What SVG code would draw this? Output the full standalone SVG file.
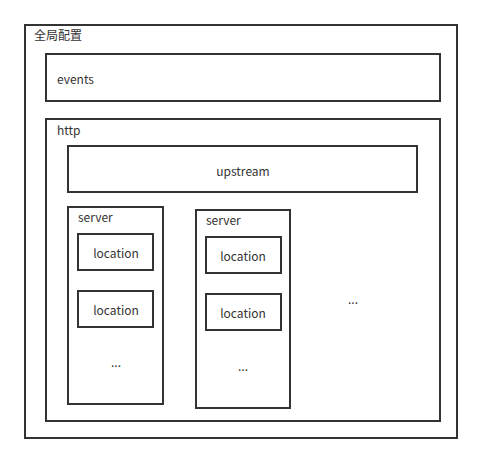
<svg xmlns="http://www.w3.org/2000/svg" width="482" height="464" viewBox="0 0 482 464">
  <style>
    .box { fill: #ffffff; stroke: #333333; stroke-width: 2; }
    .label { font-family: "Noto Sans CJK SC", "Liberation Sans", sans-serif; font-size: 12px; fill: #333333; }
    .mid { text-anchor: middle; }
  </style>
  <rect width="482" height="464" fill="#ffffff"/>

  <!-- global context -->
  <g id="global">
    <rect class="box" x="25" y="25" width="432" height="413"/>
    <text class="label" x="34" y="40">全局配置</text>
  </g>

  <g id="events">
    <rect class="box" x="46" y="54" width="394" height="47"/>
    <text class="label" x="57" y="84">events</text>
  </g>

  <g id="http">
    <rect class="box" x="46" y="119" width="394" height="302"/>
    <text class="label" x="57" y="135">http</text>
  </g>

  <g id="upstream">
    <rect class="box" x="68" y="146" width="349" height="46"/>
    <text class="label mid" x="243" y="176">upstream</text>
  </g>

  <g id="server1">
    <rect class="box" x="68" y="207" width="95" height="197"/>
    <text class="label" x="78" y="222">server</text>
    <text class="label mid" x="116" y="367">...</text>
  </g>
  <g id="server1-location1">
    <rect class="box" x="78" y="234" width="75" height="36"/>
    <text class="label mid" x="116" y="258">location</text>
  </g>
  <g id="server1-location2">
    <rect class="box" x="78" y="291" width="75" height="36"/>
    <text class="label mid" x="116" y="315">location</text>
  </g>

  <g id="server2">
    <rect class="box" x="196" y="210" width="94" height="198"/>
    <text class="label" x="206" y="225">server</text>
    <text class="label mid" x="243" y="371">...</text>
  </g>
  <g id="server2-location1">
    <rect class="box" x="206" y="237" width="75" height="36"/>
    <text class="label mid" x="243" y="261">location</text>
  </g>
  <g id="server2-location2">
    <rect class="box" x="206" y="294" width="75" height="36"/>
    <text class="label mid" x="243" y="318">location</text>
  </g>

  <g id="more-servers">
    <text class="label mid" x="353" y="304">...</text>
  </g>

  <g id="connectors"></g>
</svg>
